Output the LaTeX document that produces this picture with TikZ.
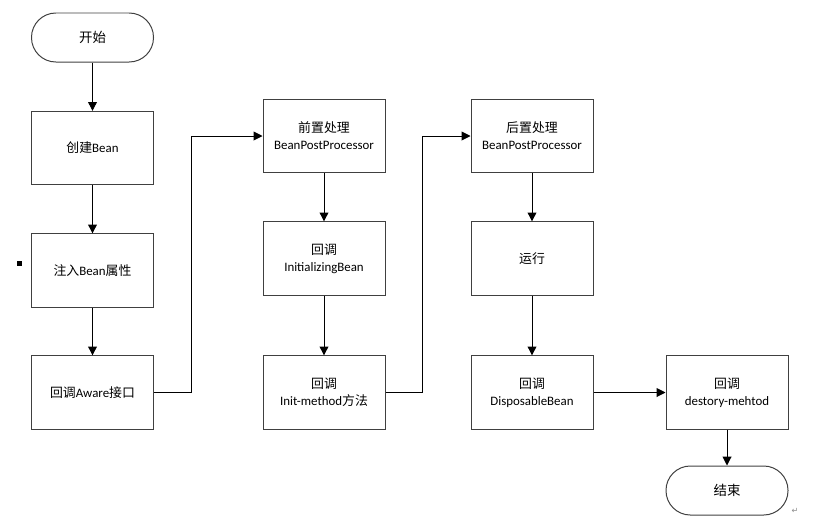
\documentclass[tikz,border=0pt]{standalone}
\usepackage{fontspec}
\setmainfont{Carlito}
\newfontfamily\cjk{Noto Sans CJK SC}
\newfontfamily\symfont{DejaVu Sans}
\usepackage{tikz}
\usetikzlibrary{arrows.meta, positioning}

\begin{document}
\begin{tikzpicture}[
    x=0.03cm, y=-0.03cm,
    stepbox/.style={
        rectangle, draw=black!75, line width=0.85pt,
        minimum width=3.66cm, minimum height=2.2cm,
        text centered, align=center,
        font=\fontsize{11}{14.5}\selectfont
    },
    terminal/.style={
        rectangle, rounded corners=0.73cm,
        draw=black!75, line width=0.85pt,
        minimum width=3.66cm, minimum height=1.47cm,
        text centered, font=\fontsize{11.5}{14.5}\selectfont\cjk
    },
    arrow/.style={-{Triangle[length=7.5pt, width=7.5pt]}, line width=0.8pt},
]
\useasboundingbox (0,0) rectangle (825,526);

% Spalte 1
\node[terminal] (start)  at (92.5,37.5)  {开始};
\node[stepbox]  (create) at (92.5,148)   {{\cjk 创建}Bean};
\node[stepbox]  (inject) at (92.5,270.5) {{\cjk 注入}Bean{\cjk 属性}};
\node[stepbox]  (aware)  at (92.5,392.5) {{\cjk 回调}Aware{\cjk 接口}};

% Spalte 2
\node[stepbox] (pre)   at (324,136)   {{\cjk 前置处理}\\BeanPostProcessor};
\node[stepbox] (initb) at (324,258.5) {{\cjk 回调}\\InitializingBean};
\node[stepbox] (initm) at (324,392.5) {{\cjk 回调}\\Init-method{\cjk 方法}};

% Spalte 3
\node[stepbox] (post) at (532,136)   {{\cjk 后置处理}\\BeanPostProcessor};
\node[stepbox] (run)  at (532,258.5) {{\cjk 运行}};
\node[stepbox] (disp) at (532,392.5) {{\cjk 回调}\\DisposableBean};

% Spalte 4
\node[stepbox]  (destroy) at (727,392.5) {{\cjk 回调}\\destory-mehtod};
\node[terminal] (stop)    at (727,490.5) {结束};

% Pfeile
\draw[arrow] (start) -- (create);
\draw[arrow] (create) -- (inject);
\draw[arrow] (inject) -- (aware);
\draw[arrow] (aware.east) -- ++(37,0) |- (pre.west);
\draw[arrow] (pre) -- (initb);
\draw[arrow] (initb) -- (initm);
\draw[arrow] (initm.east) -- ++(37,0) |- (post.west);
\draw[arrow] (post) -- (run);
\draw[arrow] (run) -- (disp);
\draw[arrow] (disp) -- (destroy);
\draw[arrow] (destroy) -- (stop);

% Reste
\fill (17,261) rectangle (22,266);
\node[font=\scriptsize\symfont, text=black!45] (ret) at (795,511) {↵};

\end{tikzpicture}
\end{document}
